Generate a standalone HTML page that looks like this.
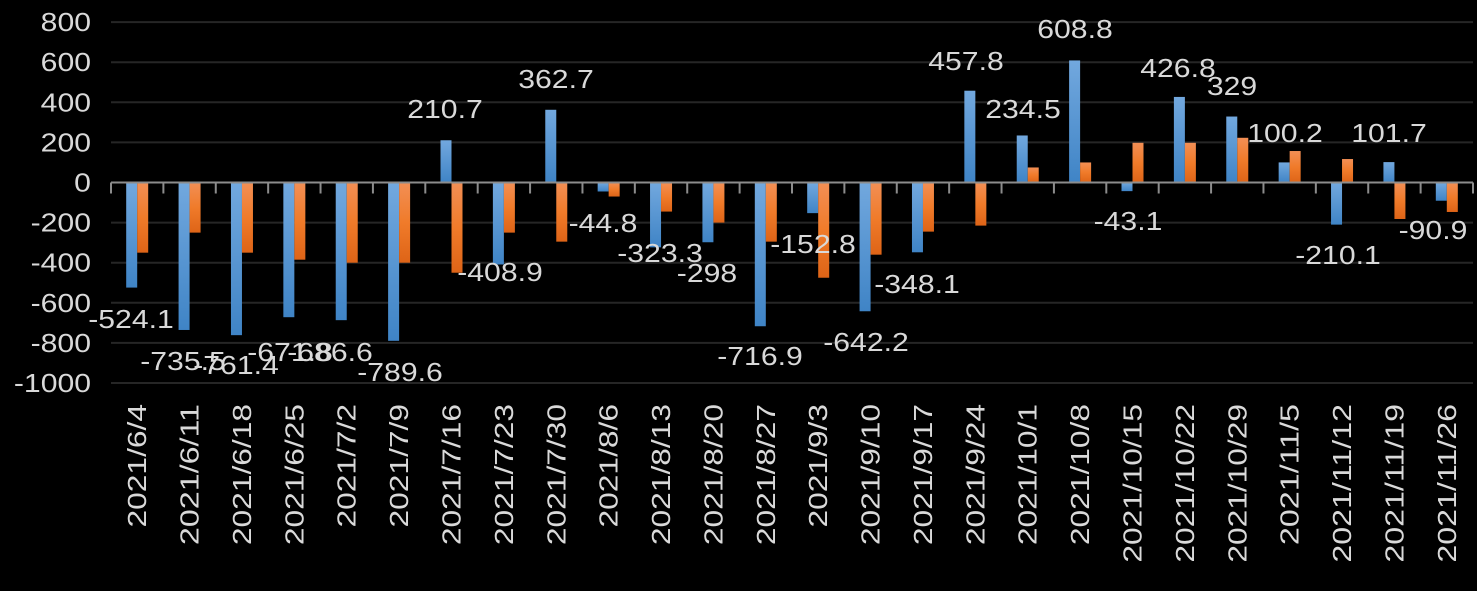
<!DOCTYPE html>
<html><head><meta charset="utf-8"><style>
html,body{margin:0;padding:0;background:#000;}
svg{display:block;font-family:"Liberation Sans","DejaVu Sans",sans-serif;}
</style></head><body>
<svg width="1477" height="591" viewBox="0 0 1477 591" xmlns="http://www.w3.org/2000/svg">
<defs>
<linearGradient id="gb" x1="0" y1="0" x2="0" y2="1"><stop offset="0" stop-color="#72a8de"/><stop offset="1" stop-color="#3f84c6"/></linearGradient>
<linearGradient id="go" x1="0" y1="0" x2="0" y2="1"><stop offset="0" stop-color="#f28f55"/><stop offset="0.5" stop-color="#f07b2a"/><stop offset="1" stop-color="#de6417"/></linearGradient>
</defs>
<rect width="1477" height="591" fill="#000"/>
<g id="grid" stroke="#262626" stroke-width="2"></g>
<g id="bars"></g>
<g id="axis"></g>
<g id="txt" fill="#d9d9d9" font-size="26"></g>
</svg>
<script>
const ns="http://www.w3.org/2000/svg";
const L=111,R=1473,Y0=182.5,S=0.2005,cw=(R-L)/26;
const dates=["2021/6/4","2021/6/11","2021/6/18","2021/6/25","2021/7/2","2021/7/9","2021/7/16","2021/7/23","2021/7/30","2021/8/6","2021/8/13","2021/8/20","2021/8/27","2021/9/3","2021/9/10","2021/9/17","2021/9/24","2021/10/1","2021/10/8","2021/10/15","2021/10/22","2021/10/29","2021/11/5","2021/11/12","2021/11/19","2021/11/26"];
const blue=[-524.1,-735.5,-761.4,-671.8,-686.6,-789.6,210.7,-408.9,362.7,-44.8,-323.3,-298,-716.9,-152.8,-642.2,-348.1,457.8,234.5,608.8,-43.1,426.8,329,100.2,-210.1,101.7,-90.9];
const orange=[-350,-250,-350,-385,-400,-400,-450,-250,-295,-70,-145,-200,-295,-475,-360,-245,-215,75,100,198,198,223,157,117,-182,-147];
const lab=[[131,328],[183,370],[236,374],[290,361],[330,361],[400,381],[445,118],[500,281],[556,88],[603,232],[660,262],[707,282],[760,365],[813,253],[866,351],[917,293],[966,70],[1023,118],[1075,38],[1128,230],[1178,77],[1232,95],[1285,142],[1338,264],[1389,142],[1433,239]];
function el(t,a,p,txt){const e=document.createElementNS(ns,t);for(const k in a)e.setAttribute(k,a[k]);if(txt!==undefined)e.textContent=txt;document.getElementById(p).appendChild(e);return e;}
function nat(s){let w=0;for(const ch of s){w+=(ch>='0'&&ch<='9')?0.556:(ch=='-'?0.333:0.278);}return w*26;}
function widen(e,s,f){e.setAttribute("textLength",(nat(s)*f).toFixed(1));e.setAttribute("lengthAdjust","spacingAndGlyphs");}
const F=1.16;
for(let v=800;v>=-1000;v-=200){const y=Y0-v*S;if(v!==0)el("line",{x1:L,x2:R,y1:y,y2:y},"grid");const s=String(v);widen(el("text",{x:91,y:y+9,"text-anchor":"end"},"txt",s),s,F);}
for(let i=0;i<26;i++){const c=L+(i+0.5)*cw;
 const b=blue[i],o=orange[i];
 el("rect",{x:c-11,y:Math.min(Y0,Y0-b*S),width:11,height:Math.abs(b*S),fill:"url(#gb)"},"bars");
 el("rect",{x:c,y:Math.min(Y0,Y0-o*S),width:11,height:Math.abs(o*S),fill:"url(#go)"},"bars");
 const s=String(b);
 widen(el("text",{x:lab[i][0],y:lab[i][1],"text-anchor":"middle"},"txt",s),s,F);
 widen(el("text",{transform:`translate(${c+9},404) rotate(-90)`,"text-anchor":"end"},"txt",dates[i]),dates[i],1.22);
}
el("line",{x1:L,x2:R,y1:Y0,y2:Y0,stroke:"#8c8c8c","stroke-width":2},"axis");
for(let i=0;i<=26;i++){const x=L+i*cw;el("line",{x1:x,x2:x,y1:Y0,y2:Y0+11,stroke:"#8c8c8c","stroke-width":2},"axis");}
</script>
</body></html>
